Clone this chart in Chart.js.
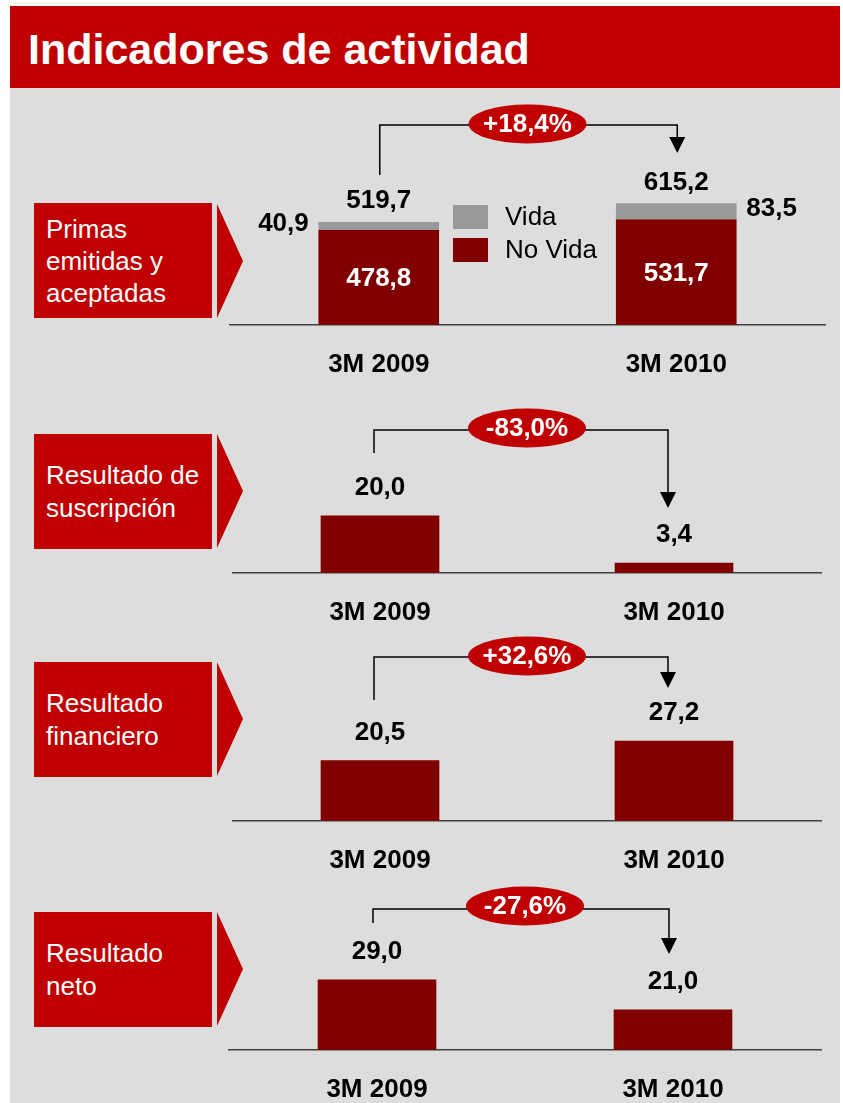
<!DOCTYPE html>
<html lang="es">
<head>
<meta charset="utf-8">
<title>Indicadores de actividad</title>
<script src="https://cdn.jsdelivr.net/npm/chart.js@4.4.1/dist/chart.umd.min.js"></script>
<style>
  html, body { margin: 0; padding: 0; background: #fff; overflow: hidden; }
  body { width: 843px; height: 1103px; position: relative; font-family: Arial, "Liberation Sans", sans-serif; }
  .titulo { position: absolute; left: 10px; top: 6px; width: 830px; height: 82px; background: #C00000; }
  .titulo span { position: absolute; left: 18px; top: 22px; font-size: 43px; line-height: 42px; font-weight: bold; color: #fff; white-space: nowrap; }
  .fondo { position: absolute; left: 10px; top: 88px; width: 830px; height: 1015px; background: #DDDDDD; }
  .etiqueta { position: absolute; left: 34px; width: 178px; height: 115px; background: #C00000; color: #fff;
    font-size: 26px; line-height: 32px; display: flex; align-items: center; padding-left: 12px; box-sizing: border-box; white-space: nowrap; }
  .punta { position: absolute; left: 217px; width: 0; height: 0; border-top: 57px solid transparent;
    border-bottom: 57px solid transparent; border-left: 26px solid #C00000; }
  canvas { position: absolute; }
</style>
</head>
<body>
<div class="fondo"></div>
<div class="titulo"><span>Indicadores de actividad</span></div>

<div class="etiqueta" style="top:203px">Primas<br>emitidas y<br>aceptadas</div>
<div class="punta" style="top:204px"></div>
<div class="etiqueta" style="top:434px; line-height:33px">Resultado de<br>suscripción</div>
<div class="punta" style="top:434px"></div>
<div class="etiqueta" style="top:662px; line-height:33px">Resultado<br>financiero</div>
<div class="punta" style="top:662px"></div>
<div class="etiqueta" style="top:912px; line-height:33px">Resultado<br>neto</div>
<div class="punta" style="top:912px"></div>

<div style="position:absolute; left:228px; top:100px; width:600px; height:296px"><canvas id="graficoPrimas"></canvas></div>
<div style="position:absolute; left:228px; top:373px; width:600px; height:271px"><canvas id="graficoSuscripcion"></canvas></div>
<div style="position:absolute; left:228px; top:621px; width:600px; height:271px"><canvas id="graficoFinanciero"></canvas></div>
<div style="position:absolute; left:228px; top:850px; width:600px; height:271px"><canvas id="graficoNeto"></canvas></div>

<script>
// Datos
var categorias = ['3M 2009', '3M 2010'];
var primasNoVida = [478.8, 531.7];
var primasVida = [40.9, 83.5];
var primasTotal = [519.7, 615.2];
var resultadoSuscripcion = [20.0, 3.4];
var resultadoFinanciero = [20.5, 27.2];
var resultadoNeto = [29.0, 21.0];
var variaciones = ['+18,4%', '-83,0%', '+32,6%', '-27,6%'];

var ROJO = '#C00000';
var GRANATE = '#800000';
var GRIS = '#999999';
var FUENTE = 'Arial, "Liberation Sans", sans-serif';

Chart.defaults.font.family = FUENTE;

function formatear(v) {
    return v.toFixed(1).replace('.', ',');
}

function texto(ctx, t, x, y, color, negrita, align) {
    ctx.font = (negrita ? 'bold 26px ' : '26px ') + FUENTE;
    ctx.fillStyle = color;
    ctx.textAlign = align || 'center';
    ctx.textBaseline = 'middle';
    ctx.fillText(t, x, y);
}

// Flecha de variacion con la elipse roja
function dibujarFlecha(chart, f) {
    var ctx = chart.ctx;
    var xa = chart.scales.x.getPixelForValue(0);
    var xb = chart.scales.x.getPixelForValue(1);
    var x0 = xa + f.dx;
    var x1 = xb + f.dx;
    ctx.save();
    ctx.strokeStyle = '#000';
    ctx.fillStyle = '#000';
    ctx.lineWidth = 1.5;
    ctx.beginPath();
    ctx.moveTo(x0, f.inicio);
    ctx.lineTo(x0, f.linea);
    ctx.lineTo(x1, f.linea);
    ctx.lineTo(x1, f.punta - 16);
    ctx.stroke();
    ctx.beginPath();
    ctx.moveTo(x1 - 8, f.punta - 16);
    ctx.lineTo(x1 + 8, f.punta - 16);
    ctx.lineTo(x1, f.punta);
    ctx.closePath();
    ctx.fill();

    var cx = (xa + xb) / 2;
    ctx.fillStyle = ROJO;
    ctx.beginPath();
    ctx.ellipse(cx, f.elipse, 59, 19.5, 0, 0, Math.PI * 2);
    ctx.fill();
    texto(ctx, f.texto, cx, f.elipse + 1, '#fff', true);
    ctx.restore();
}

var pluginEtiquetas = {
    id: 'etiquetas',
    afterDatasetsDraw: function(chart, args, opts) {
        var ctx = chart.ctx;
        ctx.save();
        if (opts.tipo === 'primas') {
            var noVida = chart.getDatasetMeta(0).data;
            var vida = chart.getDatasetMeta(1).data;
            for (var i = 0; i < noVida.length; i++) {
                var b = noVida[i];
                var v = vida[i];
                texto(ctx, formatear(primasNoVida[i]), b.x, (b.y + b.base) / 2 + 1, '#fff', true);
                texto(ctx, formatear(primasTotal[i]), v.x, v.y - 21, '#000', true);
                var medio = (v.y + v.base) / 2 - 3;
                if (i === 0) {
                    texto(ctx, formatear(primasVida[i]), v.x - v.width / 2 - 10, medio, '#000', true, 'right');
                } else {
                    texto(ctx, formatear(primasVida[i]), v.x + v.width / 2 + 10, medio, '#000', true, 'left');
                }
            }
            // leyenda
            var ds = chart.data.datasets;
            var filas = [ds[1], ds[0]];
            for (var j = 0; j < filas.length; j++) {
                var y = 105 + j * 33;
                ctx.fillStyle = filas[j].backgroundColor;
                ctx.fillRect(225, y, 35, 24);
                texto(ctx, filas[j].label, 277, y + 13, '#000', false, 'left');
            }
        } else {
            var datos = chart.data.datasets[0].data;
            var barras = chart.getDatasetMeta(0).data;
            for (var k = 0; k < barras.length; k++) {
                texto(ctx, formatear(datos[k]), barras[k].x, barras[k].y - 28, '#000', true);
            }
        }
        dibujarFlecha(chart, opts.flecha);
        ctx.restore();
    }
};

function opcionesBase(ymin, ymax, padding, etiquetas) {
    return {
        responsive: true,
        maintainAspectRatio: false,
        animation: false,
        layout: { padding: padding },
        plugins: {
            legend: { display: false },
            tooltip: { enabled: false },
            etiquetas: etiquetas
        },
        scales: {
            x: {
                stacked: true,
                grid: { display: false },
                border: { display: true, color: '#404040', width: 1.5 },
                ticks: { color: '#000', padding: 16, font: { size: 26, weight: 'bold' } }
            },
            y: { stacked: true, display: false, min: ymin, max: ymax }
        }
    };
}

new Chart(document.getElementById('graficoPrimas'), {
    type: 'bar',
    data: {
        labels: categorias,
        datasets: [
            { label: 'No Vida', data: primasNoVida, backgroundColor: GRANATE, barThickness: 120 },
            { label: 'Vida', data: primasVida, backgroundColor: GRIS, barThickness: 120 }
        ]
    },
    options: opcionesBase(0, 1140, { left: 2, right: 3, top: 0, bottom: 0 }, {
        tipo: 'primas',
        flecha: { texto: variaciones[0], dx: 1, inicio: 75, linea: 25, punta: 53, elipse: 24 }
    }),
    plugins: [pluginEtiquetas]
});

function panelSimple(id, valores, ymin, ymax, padding, flecha) {
    new Chart(document.getElementById(id), {
        type: 'bar',
        data: {
            labels: categorias,
            datasets: [{ label: id, data: valores, backgroundColor: GRANATE, barThickness: 118 }]
        },
        options: opcionesBase(ymin, ymax, padding, { tipo: 'simple', flecha: flecha }),
        plugins: [pluginEtiquetas]
    });
}

panelSimple('graficoSuscripcion', resultadoSuscripcion, 0, 56, { left: 5, right: 7, top: 40, bottom: 0 },
    { texto: variaciones[1], dx: -6, inicio: 80, linea: 57, punta: 135, elipse: 55 });
panelSimple('graficoFinanciero', resultadoFinanciero, 0, 54.5, { left: 5, right: 7, top: 40, bottom: 0 },
    { texto: variaciones[2], dx: -6, inicio: 79, linea: 36, punta: 67, elipse: 35 });
panelSimple('graficoNeto', resultadoNeto, 10.3, 53, { left: 1, right: 7, top: 40, bottom: 0 },
    { texto: variaciones[3], dx: -4, inicio: 73, linea: 59, punta: 104, elipse: 56 });
</script>
</body>
</html>
